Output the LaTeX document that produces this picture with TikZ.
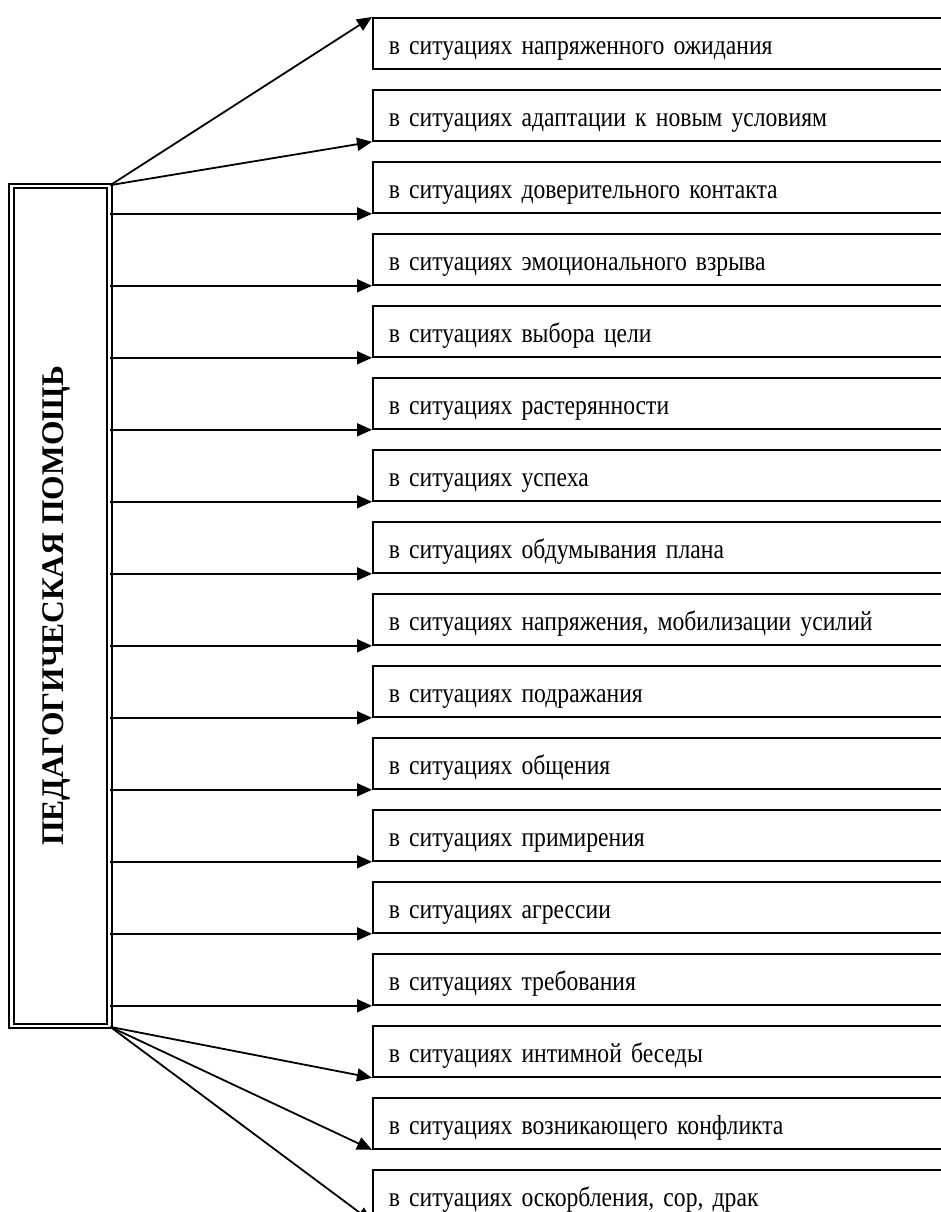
\documentclass[tikz,border=0pt]{standalone}
\usepackage{fontspec}
\setmainfont{Liberation Serif}
\newfontfamily\sitfont[FakeStretch=0.86]{Liberation Serif}
\newcommand\sitstyle{\sitfont\fontsize{27.5}{32}\selectfont\spaceskip=0.19em\relax}
\usetikzlibrary{arrows.meta,positioning}

\begin{document}
\begin{tikzpicture}[x=1pt, y=-1pt, line width=1.8pt,
    arr/.style={-{Triangle[length=15pt,width=13pt]}},
    helpbox/.style={draw, double, double distance=2.5pt, minimum width=98pt, minimum height=840pt, inner sep=0pt},
    sitbox/.style={draw, anchor=north west, text width=566pt, align=left, inner xsep=16pt, inner ysep=0pt,
      minimum height=51pt, text height=26pt, text depth=3pt, font=\sitstyle}]
  \clip (0,0) rectangle (941,1212);
  % main box with rotated title
  \node[helpbox] (help) at (60.5,606) {};
  \node[rotate=90, font=\bfseries\fontsize{31.5}{36}\selectfont] (title) at ([xshift=-4pt]help.center) {ПЕДАГОГИЧЕСКАЯ ПОМОЩЬ};
  % situations
  \foreach \i/\t in {1/напряженного ожидания, 2/адаптации к новым условиям, 3/доверительного контакта,
      4/эмоционального взрыва, 5/выбора цели, 6/растерянности, 7/успеха, 8/обдумывания плана,
      9/{напряжения, мобилизации усилий}, 10/подражания, 11/общения, 12/примирения, 13/агрессии,
      14/требования, 15/интимной беседы, 16/возникающего конфликта, 17/{оскорбления, сор, драк}}
    \node[sitbox] (b\i) at (372,{17+72*(\i-1)}) {в ситуациях \t};
  % arrows from the corners
  \draw[arr] (help.north east) -- (b1.north west);
  \draw[arr] (help.north east) -- (b2.south west);
  \foreach \i in {3,...,14}
    \draw[arr] (help.east |- b\i.south west) -- (b\i.south west);
  \draw[arr] (help.south east) -- (b15.south west);
  \draw[arr] (help.south east) -- (b16.south west);
  \draw[arr] (help.south east) -- (b17.south west);
\end{tikzpicture}
\end{document}
